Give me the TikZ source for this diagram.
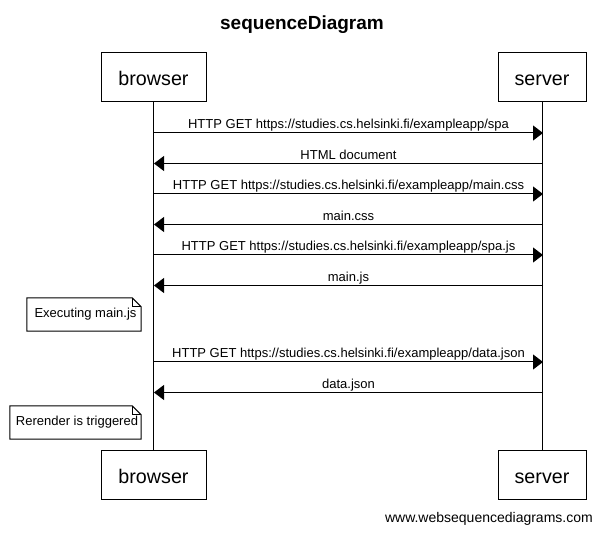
\documentclass[tikz,border=0pt]{standalone}
\usepackage{fontspec}
\setmainfont{Liberation Sans}
\usetikzlibrary{arrows.meta}
\begin{document}
\begin{tikzpicture}[x=1pt,y=-1pt,
 actor/.style={draw, line width=1pt, minimum height=49pt, inner sep=0pt, text height=16pt, text depth=0pt, font=\fontsize{19.7}{24}\selectfont},
 msg/.style={line width=1pt, -{Triangle[length=10pt,width=15pt]}},
 lbl/.style={anchor=base, yshift=4pt, font=\fontsize{13}{15}\selectfont, inner sep=0pt},
 notebox/.style={inner sep=0pt, minimum height=33pt, font=\fontsize{13}{15}\selectfont},
 noteline/.style={line width=1pt},
 life/.style={line width=1pt}]
\fill[white] (0,0) rectangle (603,534);
\useasboundingbox (0,0) rectangle (603,534);

\node[font=\bfseries\fontsize{19}{23}\selectfont, anchor=base, inner sep=0pt] (title) at (302,29.5) {sequenceDiagram};

\node[actor, minimum width=105pt] (bt) at (153.5,77.2) {browser};
\node[actor, minimum width=88pt] (st) at (542,77.2) {server};
\node[actor, minimum width=105pt] (bb) at (153.5,475.5) {browser};
\node[actor, minimum width=88pt] (sb) at (542,475.5) {server};

\draw[life] (bt) -- (bb);
\draw[life] (st) -- (sb);

% lifeline coordinates
\foreach \i/\y in {1/133,2/163.5,3/194,4/224.5,5/255,6/285.5,7/362,8/392.5}{
  \coordinate (b\i) at (154,\y);
  \coordinate (s\i) at (543,\y);
}

\draw[msg] (b1) -- node[lbl]{HTTP GET https://studies.cs.helsinki.fi/exampleapp/spa} (s1);
\draw[msg] (s2) -- node[lbl]{HTML document} (b2);
\draw[msg] (b3) -- node[lbl]{HTTP GET https://studies.cs.helsinki.fi/exampleapp/main.css} (s3);
\draw[msg] (s4) -- node[lbl]{main.css} (b4);
\draw[msg] (b5) -- node[lbl]{HTTP GET https://studies.cs.helsinki.fi/exampleapp/spa.js} (s5);
\draw[msg] (s6) -- node[lbl]{main.js} (b6);
\draw[msg] (b7) -- node[lbl]{HTTP GET https://studies.cs.helsinki.fi/exampleapp/data.json} (s7);
\draw[msg] (s8) -- node[lbl]{data.json} (b8);

% notes
\node[notebox, minimum width=114pt] (n1) at (84,314.5) {\hspace{3pt}Executing main.js};
\draw[noteline] (n1.north west) -- ([xshift=-9pt]n1.north east) -- ([yshift=-9pt]n1.north east) -- (n1.south east) -- (n1.south west) -- cycle;
\draw[line width=0.6pt] ([xshift=-9pt]n1.north east) |- ([yshift=-9pt]n1.north east);

\node[notebox, minimum width=131pt] (n2) at (75.5,422.5) {\hspace{3pt}Rerender is triggered};
\draw[noteline] (n2.north west) -- ([xshift=-9pt]n2.north east) -- ([yshift=-9pt]n2.north east) -- (n2.south east) -- (n2.south west) -- cycle;
\draw[line width=0.6pt] ([xshift=-9pt]n2.north east) |- ([yshift=-9pt]n2.north east);

\node[font=\fontsize{14}{17}\selectfont, anchor=east, inner sep=0pt] (wsd) at (593,519) {www.websequencediagrams.com};
\end{tikzpicture}
\end{document}
